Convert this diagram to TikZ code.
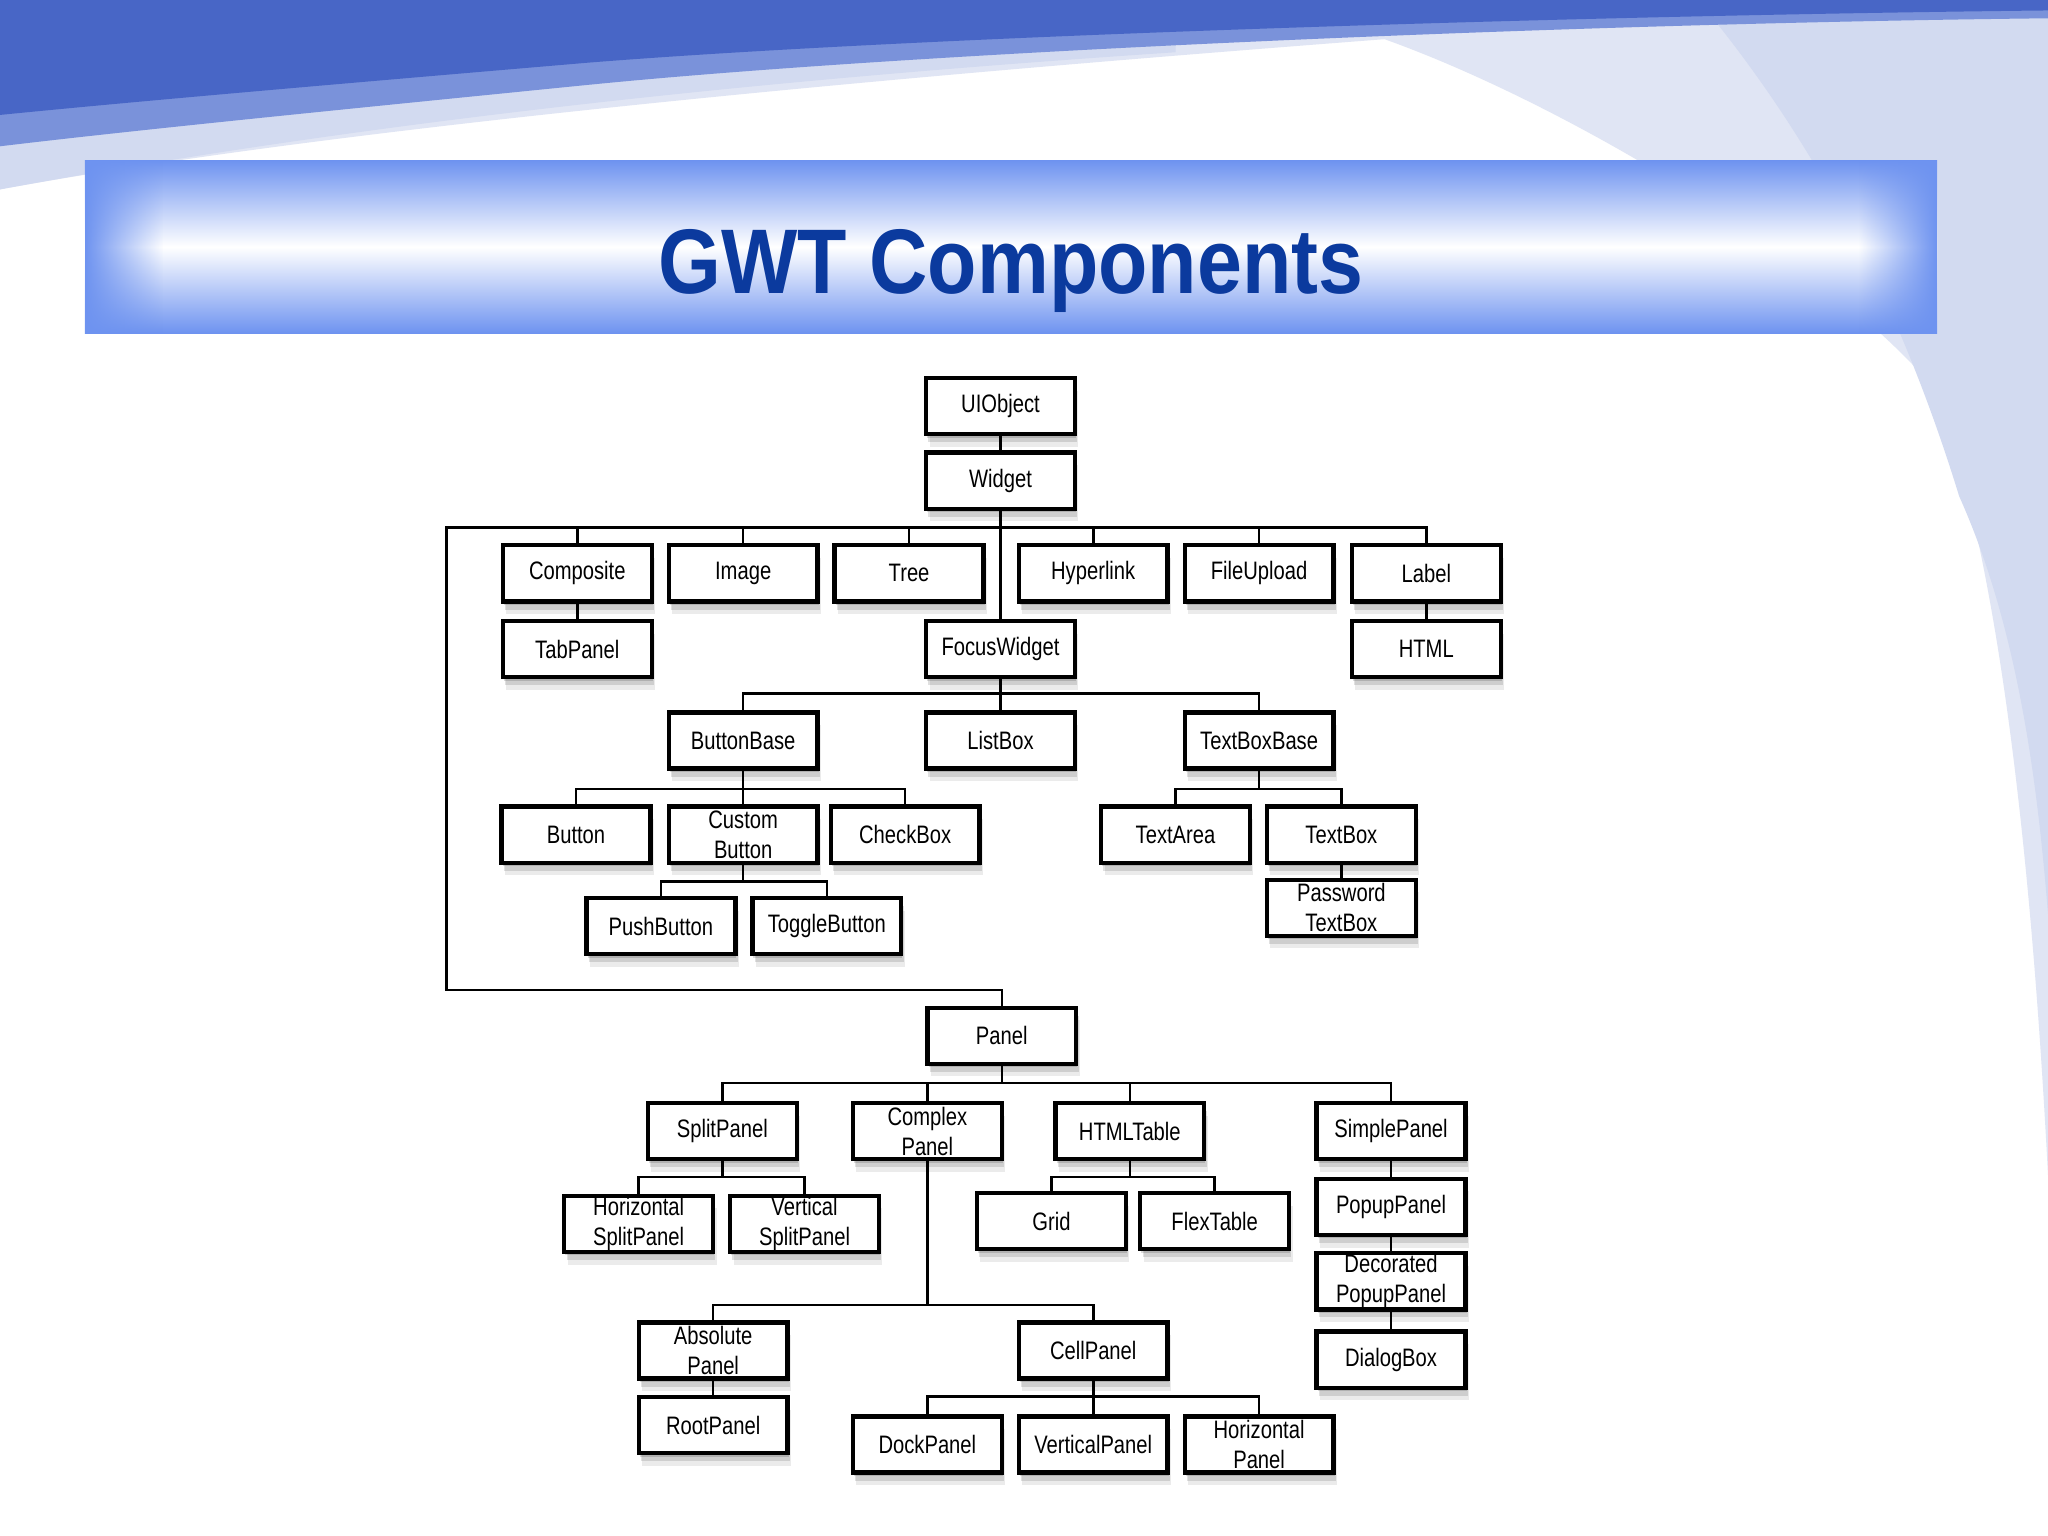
\documentclass[tikz,border=0pt]{standalone}
\usepackage{fontspec}
\setmainfont{Liberation Sans}[FakeStretch=0.8]
\newfontfamily\titlefont{Liberation Sans}[FakeStretch=0.88]
\usetikzlibrary{shadows,fadings}
\definecolor{banddark}{HTML}{4866C6}
\definecolor{bandlight}{HTML}{7A92DA}
\definecolor{palebg}{HTML}{E0E5F4}
\definecolor{palebg2}{HTML}{D2DAF0}
\definecolor{barblue}{HTML}{6E93F0}
\definecolor{titleblue}{HTML}{0B3A9E}
\tikzfading[name=fadeR, left color=transparent!0, right color=transparent!100]
\tikzfading[name=fadeL, left color=transparent!100, right color=transparent!0]
\begin{document}
\begin{tikzpicture}[x=0.02cm,y=-0.02cm,
  box/.style={draw=black, line width=1.9pt, fill=white,
    minimum width=2.28cm, minimum height=0.86cm, inner sep=0pt, align=center,
    font=\fontsize{11}{13}\selectfont,
    general shadow={fill=black, opacity=0.14, shadow xshift=0.5pt, shadow yshift=-1.5pt},
    general shadow={fill=black, opacity=0.12, shadow xshift=1pt, shadow yshift=-3.5pt},
    general shadow={fill=black, opacity=0.08, shadow xshift=1.5pt, shadow yshift=-5.5pt}},
  conn/.style={draw=black, line width=1.1pt}]
\useasboundingbox (0,0) rectangle (1568,1176);
% background
\fill[white] (0,0) rectangle (1568,1176);
\fill[palebg] (0,0) -- (1568,0) -- (1568,900)
  .. controls (1555,650) and (1530,430) .. (1483,300)
  .. controls (1400,200) and (1200,80) .. (1060,30)
  .. controls (800,50) and (300,90) .. (0,145) -- cycle;
\fill[palebg2] (1568,0) -- (1568,700)
  .. controls (1560,600) and (1545,480) .. (1500,380)
  .. controls (1460,250) and (1400,120) .. (1300,0) -- cycle;
\fill[palebg2] (0,100) -- (0,145) .. controls (300,90) and (600,60) .. (900,40) -- (900,20) -- cycle;
\fill[bandlight] (0,0) -- (1568,0) -- (1568,14)
  .. controls (1200,18) and (700,40) .. (450,65)
  .. controls (250,85) and (100,100) .. (0,112) -- cycle;
\fill[banddark] (0,0) -- (1568,0) -- (1568,8)
  .. controls (1200,12) and (700,28) .. (450,48)
  .. controls (250,65) and (100,78) .. (0,88) -- cycle;
% title bar
\shade[top color=barblue, bottom color=barblue, middle color=white] (65,123) rectangle (1483,255);
\fill[barblue, path fading=fadeR] (65,123) rectangle (125,255);
\fill[barblue, path fading=fadeL] (1423,123) rectangle (1483,255);
\node[font=\titlefont\bfseries\fontsize{40}{48}\selectfont, text=titleblue, anchor=base, inner sep=0pt] (title) at (774,225) {GWT Components};
% nodes
\node[box] (uiobject) at (766,311) {UIObject};
\node[box] (widget) at (766,368) {Widget};
\node[box] (composite) at (442,439) {Composite};
\node[box] (image) at (569,439) {Image};
\node[box] (tree) at (696,439) {Tree};
\node[box] (hyperlink) at (837,439) {Hyperlink};
\node[box] (fileupload) at (964,439) {FileUpload};
\node[box] (label) at (1092,439) {Label};
\node[box] (tabpanel) at (442,497) {TabPanel};
\node[box] (focus) at (766,497) {FocusWidget};
\node[box] (html) at (1092,497) {HTML};
\node[box] (buttonbase) at (569,567) {ButtonBase};
\node[box] (listbox) at (766,567) {ListBox};
\node[box] (textboxbase) at (964,567) {TextBoxBase};
\node[box] (button) at (441,639) {Button};
\node[box] (custom) at (569,639) {Custom\\Button};
\node[box] (checkbox) at (693,639) {CheckBox};
\node[box] (textarea) at (900,639) {TextArea};
\node[box] (textbox) at (1027,639) {TextBox};
\node[box] (pushbutton) at (506,709) {PushButton};
\node[box] (togglebutton) at (633,709) {ToggleButton};
\node[box] (password) at (1027,695) {Password\\TextBox};
\node[box] (panel) at (767,793) {Panel};
\node[box] (split) at (553,866) {SplitPanel};
\node[box] (complex) at (710,866) {Complex\\Panel};
\node[box] (htmltable) at (865,866) {HTMLTable};
\node[box] (simple) at (1065,866) {SimplePanel};
\node[box] (hsplit) at (489,937) {Horizontal\\SplitPanel};
\node[box] (vsplit) at (616,937) {Vertical\\SplitPanel};
\node[box] (grid) at (805,935) {Grid};
\node[box] (flex) at (930,935) {FlexTable};
\node[box] (popup) at (1065,924) {PopupPanel};
\node[box] (decorated) at (1065,981) {Decorated\\PopupPanel};
\node[box] (dialog) at (1065,1041) {DialogBox};
\node[box] (absolute) at (546,1034) {Absolute\\Panel};
\node[box] (root) at (546,1091) {RootPanel};
\node[box] (cell) at (837,1034) {CellPanel};
\node[box] (dock) at (710,1106) {DockPanel};
\node[box] (vertical) at (837,1106) {VerticalPanel};
\node[box] (horizontal) at (964,1106) {Horizontal\\Panel};
% bus coordinates
\coordinate (tc) at (342,404);
\coordinate (lc) at (342,758);
\coordinate (b531) at (0,531);
\coordinate (b604) at (0,604);
\coordinate (b675) at (0,675);
\coordinate (b829) at (0,829);
\coordinate (b901) at (0,901);
\coordinate (b999) at (0,999);
\coordinate (b1069) at (0,1069);
% connectors
\draw[conn] (uiobject.south) -- (widget.north);
\draw[conn] (widget.south) -- (focus.north);
\draw[conn] (panel.north) |- (lc) -- (tc) -| (label.north);
\foreach \n in {composite,image,tree,hyperlink,fileupload}
  \draw[conn] (\n.north) -- (\n.north |- tc);
\draw[conn] (composite.south) -- (tabpanel.north);
\draw[conn] (label.south) -- (html.north);
\draw[conn] (focus.south) -- (listbox.north);
\draw[conn] (buttonbase.north) -- (buttonbase.north |- b531) -| (textboxbase.north);
\draw[conn] (buttonbase.south) -- (custom.north);
\draw[conn] (button.north) -- (button.north |- b604) -| (checkbox.north);
\draw[conn] (custom.south) -- (custom.south |- b675);
\draw[conn] (pushbutton.north) -- (pushbutton.north |- b675) -| (togglebutton.north);
\draw[conn] (textboxbase.south) -- (textboxbase.south |- b604);
\draw[conn] (textarea.north) -- (textarea.north |- b604) -| (textbox.north);
\draw[conn] (textbox.south) -- (password.north);
\draw[conn] (panel.south) -- (panel.south |- b829);
\draw[conn] (split.north) -- (split.north |- b829) -| (simple.north);
\draw[conn] (complex.north) -- (complex.north |- b829);
\draw[conn] (htmltable.north) -- (htmltable.north |- b829);
\draw[conn] (split.south) -- (split.south |- b901);
\draw[conn] (hsplit.north) -- (hsplit.north |- b901) -| (vsplit.north);
\draw[conn] (htmltable.south) -- (htmltable.south |- b901);
\draw[conn] (grid.north) -- (grid.north |- b901) -| (flex.north);
\draw[conn] (simple.south) -- (popup.north);
\draw[conn] (popup.south) -- (decorated.north);
\draw[conn] (decorated.south) -- (dialog.north);
\draw[conn] (complex.south) -- (complex.south |- b999);
\draw[conn] (absolute.north) -- (absolute.north |- b999) -| (cell.north);
\draw[conn] (absolute.south) -- (root.north);
\draw[conn] (cell.south) -- (cell.south |- b1069);
\draw[conn] (dock.north) -- (dock.north |- b1069) -| (horizontal.north);
\draw[conn] (vertical.north) -- (vertical.north |- b1069);
\end{tikzpicture}
\end{document}
